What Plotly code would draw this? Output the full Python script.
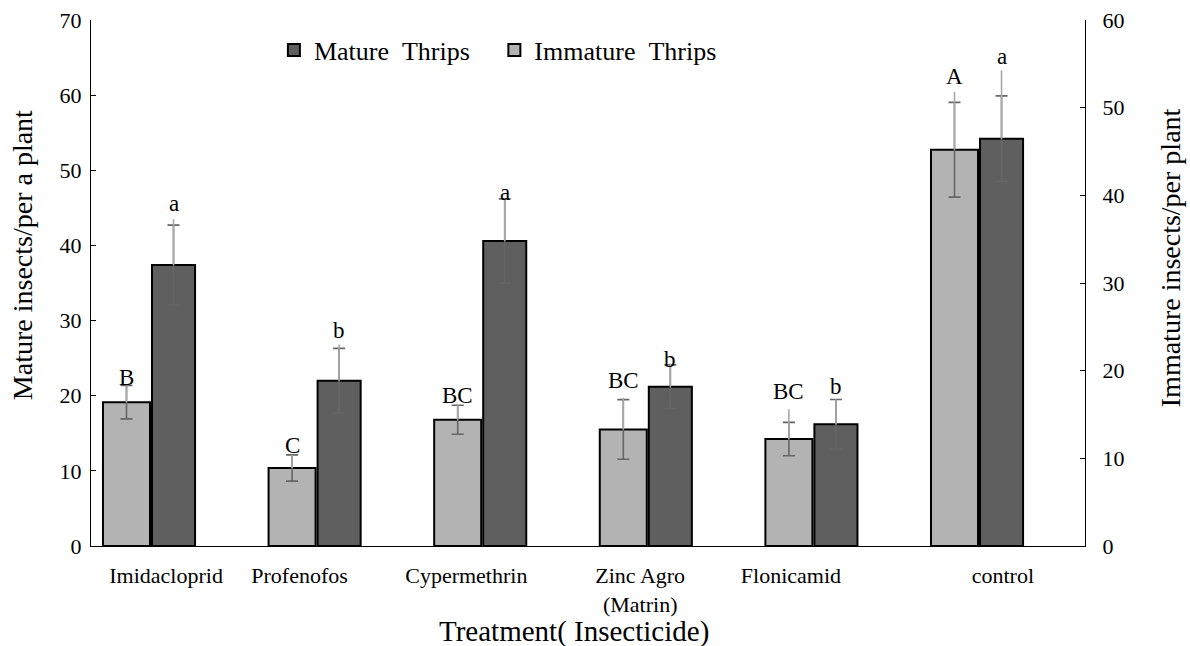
import plotly.graph_objects as go

categories = ["Imidacloprid", "Profenofos", "Cypermethrin", "Zinc Agro<br>(Matrin)", "Flonicamid", "control"]
mature = [37.4, 22.0, 40.6, 21.2, 16.2, 54.2]
mature_err = [5.3, 4.3, 5.6, 2.9, 3.3, 5.7]
mature_err_hi = [6.1, 4.8, 5.7, 3.1, 3.3, 9.1]
immature = [16.4, 8.9, 14.4, 13.3, 12.2, 45.2]
immature_err = [1.9, 1.5, 1.65, 3.4, 1.9, 5.4]
immature_err_hi = [1.9, 1.5, 1.65, 3.6, 3.4, 6.6]
mature_letters = ["a", "b", "a", "b", "b", "a"]
immature_letters = ["B", "C", "BC", "BC", "BC", "A"]
mature_letter_y = [45.6, 28.7, 47.1, 24.8, 21.2, 65.1]
immature_letter_y = [19.2, 11.5, 17.2, 18.9, 17.6, 53.5]
tick_nudge = [0.097, -0.097, -0.09, -0.04, -0.13, 0.15]

FONT = "Liberation Serif, Times New Roman, serif"
idx = list(range(len(categories)))
off = 0.142
x_imm = [i - off for i in idx]
x_mat = [i + off for i in idx]

fig = go.Figure()
fig.add_trace(go.Bar(
    x=x_mat, y=mature, width=0.26, name="Mature\u00a0\u00a0Thrips\u00a0\u00a0\u00a0",
    marker=dict(color="#5f5f5f", line=dict(color="black", width=2)),
    error_y=dict(type="data", array=mature_err, color="#666666", thickness=1.6, width=6),
    yaxis="y",
))
fig.add_trace(go.Bar(
    x=x_mat, y=mature, width=0.26, showlegend=False, hoverinfo="skip",
    marker=dict(color="rgba(0,0,0,0)", line=dict(width=0)),
    error_y=dict(type="data", array=mature_err_hi, arrayminus=[0]*6, color="#a8a8a8", thickness=1.6, width=0),
    yaxis="y",
))
fig.add_trace(go.Bar(
    x=x_imm, y=immature, width=0.284, name="Immature\u00a0\u00a0Thrips",
    marker=dict(color="#b3b3b3", line=dict(color="black", width=2)),
    error_y=dict(type="data", array=immature_err, color="#666666", thickness=1.6, width=6),
    yaxis="y2",
))
fig.add_trace(go.Bar(
    x=x_imm, y=immature, width=0.284, showlegend=False, hoverinfo="skip",
    marker=dict(color="rgba(0,0,0,0)", line=dict(width=0)),
    error_y=dict(type="data", array=immature_err_hi, arrayminus=[0]*6, color="#a8a8a8", thickness=1.6, width=0),
    yaxis="y2",
))

annotations = []
for i in idx:
    annotations.append(dict(x=x_mat[i], y=mature_letter_y[i], xref="x", yref="y", text=mature_letters[i],
                            showarrow=False, font=dict(family=FONT, size=23, color="black")))
    annotations.append(dict(x=x_imm[i], y=immature_letter_y[i], xref="x", yref="y2", text=immature_letters[i],
                            showarrow=False, font=dict(family=FONT, size=23, color="black")))
annotations.append(dict(x=-0.0694, y=0.553, xref="paper", yref="paper", text="Mature insects/per a plant",
                        xanchor="center", yanchor="middle",
                        textangle=-90, showarrow=False, font=dict(family=FONT, size=28, color="black")))
annotations.append(dict(x=1.0855, y=0.549, xref="paper", yref="paper", text="Immature insects/per plant",
                        xanchor="center", yanchor="middle",
                        textangle=-90, showarrow=False, font=dict(family=FONT, size=28, color="black")))
annotations.append(dict(x=0.486, y=-0.1616, xref="paper", yref="paper", text="Treatment( Insecticide)",
                        xanchor="center", yanchor="middle",
                        showarrow=False, font=dict(family=FONT, size=29, color="black")))

fig.update_layout(
    width=1190, height=646,
    margin=dict(l=91, r=105, t=20, b=100, autoexpand=False),
    paper_bgcolor="white", plot_bgcolor="white",
    barmode="overlay",
    font=dict(family=FONT, size=22, color="black"),
    showlegend=True,
    legend=dict(orientation="h", x=0.184, y=0.943, xanchor="left", yanchor="middle",
                font=dict(family=FONT, size=26, color="black"), bgcolor="rgba(0,0,0,0)",
                traceorder="normal"),
    xaxis=dict(range=[-0.3563, 5.646], tickvals=[i + n for i, n in zip(idx, tick_nudge)],
               ticktext=categories, showline=True, linecolor="black", linewidth=1, ticks="",
               showgrid=False, zeroline=False, tickfont=dict(family=FONT, size=22),
               ticklabelstandoff=10),
    yaxis=dict(range=[0, 70], dtick=10, showline=True, linecolor="black", linewidth=1,
               ticks="inside", ticklen=5, tickcolor="black", showgrid=False, zeroline=False,
               tickfont=dict(family=FONT, size=22), ticklabelstandoff=4),
    yaxis2=dict(range=[0, 60], dtick=10, overlaying="y", side="right", showline=True,
                linecolor="black", linewidth=1, ticks="inside", ticklen=5, tickcolor="black",
                showgrid=False, zeroline=False, tickfont=dict(family=FONT, size=22),
                ticklabelstandoff=12),
    annotations=annotations,
)

fig.write_html("out.html", config={"displayModeBar": False},
               post_script="document.body.style.margin='0px';document.body.style.padding='0px';")
